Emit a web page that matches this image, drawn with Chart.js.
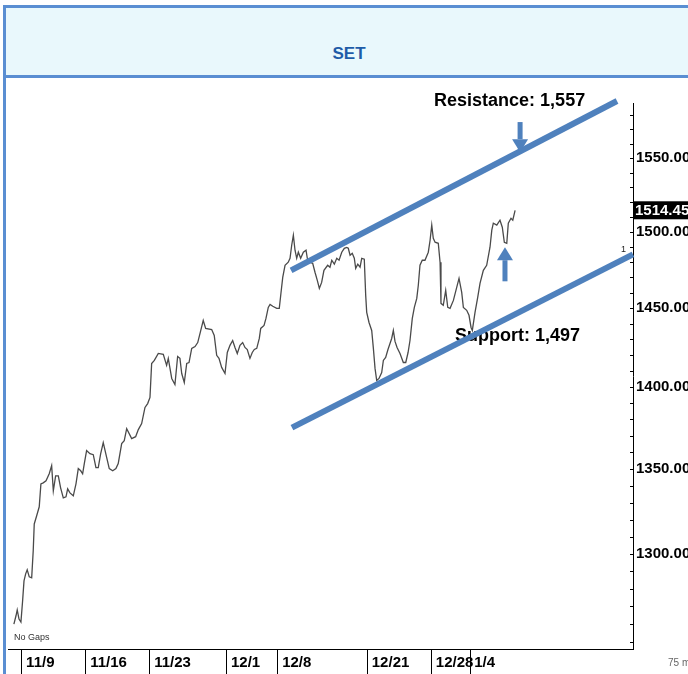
<!DOCTYPE html>
<html>
<head>
<meta charset="utf-8">
<title>SET</title>
<script src="https://cdn.jsdelivr.net/npm/chart.js@4.4.1/dist/chart.umd.min.js"></script>
<style>
  html, body { margin: 0; padding: 0; background: #fff; overflow: hidden; }
  body { width: 688px; height: 674px; position: relative; }
  .frame { position: absolute; left: 3px; top: 5px; right: 0; bottom: 0;
           border-left: 3px solid #5A8ED2; border-top: 3px solid #5A8ED2; }
  .head { height: 31px; padding-top: 36px; padding-left: 4px; background: #E9F8FC; border-bottom: 3px solid #5A8ED2;
          text-align: center; font: bold 17px/20px 'Liberation Sans', Arial, sans-serif; color: #1E5CA8; }
  .plot { position: absolute; left: 0; top: 70px; }
</style>
</head>
<body>
<div class="frame">
  <div class="head">SET</div>
  <div class="plot"><canvas id="setChart" width="682" height="597"></canvas></div>
</div>
<script>
/* ================================================
   SET INDEX — 75 MIN, CHANNEL
================================================ */

const AXIS_FAMILY = "'Liberation Sans', Arial, sans-serif";
const BLUE        = '#4F81BD';

// x unit = trading days counted from the 11/9 open
const DAY_TICKS   = [0, 5, 10, 16, 20, 27, 32, 35];
const DAY_LABELS  = ['11/9', '11/16', '11/23', '12/1', '12/8', '12/21', '12/28', '1/4'];
const PRICE_TICKS = [1300, 1350, 1400, 1450, 1500, 1550];

const TIME = [
  -0.63,-0.47,-0.37,-0.23,-0.08,0.05,0.16,0.29,0.41,0.57,
  0.76,0.88,0.96,1.15,1.35,1.48,1.66,1.88,2.13,2.32,
  2.45,2.63,2.84,3.02,3.23,3.44,3.57,3.75,4.01,4.22,
  4.40,4.59,4.74,4.87,5.05,5.31,5.57,5.78,5.96,6.15,
  6.35,6.62,6.82,7.09,7.34,7.52,7.79,7.99,8.18,8.57,
  8.88,9.09,9.35,9.61,9.82,10.00,10.13,10.34,10.65,11.04,
  11.30,11.43,11.70,11.95,12.16,12.34,12.48,12.68,12.87,13.05,
  13.26,13.52,13.73,13.91,14.16,14.35,14.82,15.02,15.21,15.39,
  15.60,15.86,16.04,16.25,16.46,16.64,16.82,17.03,17.24,17.42,
  17.60,17.81,17.99,18.15,18.34,18.54,18.65,18.91,19.06,19.24,
  19.38,19.59,19.90,20.10,20.23,20.37,20.55,20.80,20.94,21.07,
  21.20,21.33,21.46,21.59,21.77,21.98,22.19,22.29,22.50,22.71,
  22.89,23.07,23.23,23.41,23.59,23.88,24.06,24.20,24.40,24.59,
  24.77,24.98,25.18,25.37,25.49,25.63,25.80,25.96,26.07,26.23,
  26.41,26.54,26.74,26.85,26.93,27.11,27.32,27.45,27.58,27.71,
  27.89,28.10,28.23,28.41,28.59,28.88,29.01,29.14,29.30,29.53,
  29.79,29.98,30.16,30.31,30.49,30.65,30.84,30.96,31.09,31.27,
  31.48,31.74,31.88,32.01,32.13,32.27,32.52,32.66,32.73,32.91,
  33.10,33.26,33.44,33.70,33.96,34.14,34.35,34.48,34.74,34.92,
  35.08,35.18,35.39,35.60,35.78,36.04,36.30,36.56,36.70,36.82,
  37.09,37.34,37.52,37.68,37.87,37.99,38.20,38.34,38.52,
];

const PRICE = [
  1260.1,1264.6,1268.0,1262.9,1261.2,1273.1,1284.5,1288.5,1290.8,1286.8,
  1286.2,1301.8,1317.4,1322.2,1327.5,1341.1,1341.7,1342.9,1347.1,1352.0,
  1337.0,1345.9,1345.9,1338.7,1332.8,1333.4,1338.1,1335.7,1334.0,1341.1,
  1350.2,1348.9,1347.1,1353.2,1361.1,1359.2,1358.6,1350.8,1350.8,1359.2,
  1365.9,1356.8,1350.2,1348.9,1350.2,1353.2,1365.3,1367.1,1374.4,1368.3,
  1369.5,1373.8,1377.5,1387.4,1389.8,1393.6,1414.8,1416.7,1421.1,1420.5,
  1413.6,1418.0,1405.4,1401.6,1419.2,1418.0,1408.5,1402.9,1414.8,1415.4,
  1424.3,1425.5,1428.0,1433.8,1442.1,1437.0,1436.3,1432.5,1419.9,1418.0,
  1412.3,1408.5,1421.7,1426.2,1429.3,1424.9,1421.1,1426.2,1428.0,1424.9,
  1423.6,1418.0,1421.7,1423.6,1424.3,1430.6,1437.0,1438.9,1443.4,1450.5,
  1452.4,1451.2,1449.9,1449.9,1459.6,1470.0,1477.9,1479.9,1482.5,1491.1,
  1497.8,1487.8,1482.5,1486.5,1482.5,1486.5,1487.8,1482.5,1479.9,1479.2,
  1473.3,1468.0,1462.8,1466.7,1474.6,1477.9,1476.6,1481.2,1478.6,1482.5,
  1481.2,1486.5,1489.1,1489.7,1489.1,1484.5,1485.8,1482.5,1475.9,1478.6,
  1476.6,1482.5,1481.9,1458.3,1447.3,1440.8,1435.7,1424.3,1411.7,1404.1,
  1405.4,1409.1,1416.7,1418.6,1423.6,1430.6,1435.7,1428.7,1424.9,1421.1,
  1415.4,1415.4,1421.7,1429.3,1443.4,1450.5,1456.3,1464.8,1477.9,1481.2,
  1481.2,1486.5,1494.4,1504.5,1495.7,1493.1,1492.4,1479.9,1453.1,1451.8,
  1461.5,1450.5,1449.9,1455.0,1463.5,1469.3,1460.2,1450.5,1448.6,1445.4,
  1437.6,1435.7,1447.3,1457.0,1466.1,1474.6,1477.9,1489.8,1501.1,1505.8,
  1504.5,1507.8,1503.1,1493.1,1492.4,1505.8,1509.1,1507.8,1514.45,
];

// channel lines (time, price at both ends)
const RESIST_TIME   = [21.02, 46.48];
const RESIST_PRICE  = [1474.6, 1589.8];
const SUPPORT_TIME  = [21.09, 47.73];
const SUPPORT_PRICE = [1375.0, 1485.1];

const LAST_PRICE = 1514.45;

function toPoints(xs, ys) {
  return xs.map((x, i) => ({ x, y: ys[i] }));
}

/* ================================================
   DRAWING HELPERS
================================================ */
function drawArrow(ctx, x, yTail, yTip) {
  const dir  = Math.sign(yTip - yTail);
  const head = 13;
  const base = yTip - dir * head;
  ctx.fillStyle = BLUE;
  ctx.fillRect(x - 2.5, Math.min(yTail, base), 5, Math.abs(base - yTail));
  ctx.beginPath();
  ctx.moveTo(x, yTip);
  ctx.lineTo(x - 8, base);
  ctx.lineTo(x + 8, base);
  ctx.closePath();
  ctx.fill();
}

const annotations = {
  id: 'annotations',
  beforeDatasetsDraw(chart) {
    const { ctx, scales: { x, y } } = chart;
    ctx.save();
    ctx.fillStyle = '#000';
    ctx.font = "bold 18px 'Liberation Sans', Arial, sans-serif";
    ctx.textBaseline = 'middle';
    ctx.fillText('Resistance: 1,557', x.getPixelForValue(32.19), y.getPixelForValue(1589.8));
    ctx.fillText('Support: 1,497', x.getPixelForValue(33.83), y.getPixelForValue(1431.9));
    ctx.restore();
  },
  afterDatasetsDraw(chart) {
    const { ctx, scales: { x, y } } = chart;
    ctx.save();
    drawArrow(ctx, x.getPixelForValue(38.91), y.getPixelForValue(1575.0), y.getPixelForValue(1554.1));
    drawArrow(ctx, x.getPixelForValue(37.73), y.getPixelForValue(1467.4), y.getPixelForValue(1489.8));
    ctx.restore();
  },
  afterDraw(chart) {
    const { ctx, chartArea, scales: { x, y } } = chart;
    ctx.save();

    // minor ticks along the price axis
    ctx.strokeStyle = '#000';
    ctx.lineWidth = 1;
    ctx.beginPath();
    for (let v = 1250; v <= 1585; v += 10) {
      const py = Math.round(y.getPixelForValue(v)) + 0.5;
      ctx.moveTo(chartArea.right - 3, py);
      ctx.lineTo(chartArea.right, py);
    }
    ctx.stroke();

    // last price tag
    const py = y.getPixelForValue(LAST_PRICE);
    ctx.fillStyle = '#000';
    ctx.fillRect(chartArea.right + 1, py - 9, chart.width - chartArea.right, 18);
    ctx.fillStyle = '#fff';
    ctx.font = `bold 15px ${AXIS_FAMILY}`;
    ctx.textBaseline = 'middle';
    ctx.fillText(LAST_PRICE.toFixed(2), chartArea.right + 2, py + 1);

    // small chart texts
    ctx.fillStyle = '#222';
    ctx.font = `9px ${AXIS_FAMILY}`;
    ctx.fillText('1', x.getPixelForValue(46.8), y.getPixelForValue(1488.0));
    ctx.fillStyle = '#333';
    ctx.fillText('No Gaps', chartArea.left + 6, chartArea.bottom - 11);
    ctx.fillStyle = '#666';
    ctx.font = `10px ${AXIS_FAMILY}`;
    ctx.fillText('75 min', chartArea.right + 35, chartArea.bottom + 14);
    ctx.restore();
  },
};

/* ================================================
   CHART
================================================ */
function buildSetChart() {
  const ctx = document.getElementById('setChart');
  const axisFont = { family: AXIS_FAMILY, size: 15, weight: 'bold' };

  new Chart(ctx, {
    type: 'line',
    data: {
      datasets: [
        { label: 'Resistance', data: toPoints(RESIST_TIME, RESIST_PRICE), borderColor: BLUE,
          borderWidth: 6, pointRadius: 0, clip: false },
        { label: 'Support', data: toPoints(SUPPORT_TIME, SUPPORT_PRICE), borderColor: BLUE,
          borderWidth: 6, pointRadius: 0, clip: false },
        { label: 'SET', data: toPoints(TIME, PRICE), borderColor: '#4a4a4a',
          borderWidth: 1.3, pointRadius: 0, tension: 0 },
      ],
    },
    options: {
      responsive: false,
      animation: false,
      events: [],
      layout: { padding: { left: 2, top: 25, right: 0, bottom: 0 } },
      plugins: { legend: { display: false }, tooltip: { enabled: false } },
      scales: {
        x: {
          type: 'linear',
          position: 'bottom',
          min: -1.09,
          max: 47.73,
          afterBuildTicks: s => { s.ticks = DAY_TICKS.map(v => ({ value: v })); },
          afterFit: s => { s.height = 26; },
          grid: { drawOnChartArea: false, drawTicks: true, tickLength: 26, color: '#000' },
          border: { display: true, color: '#000', width: 1 },
          ticks: {
            autoSkip: false, maxRotation: 0, align: 'start', padding: -21,
            color: '#000', font: axisFont,
            callback: v => ' ' + DAY_LABELS[DAY_TICKS.indexOf(v)],
          },
        },
        y: {
          type: 'logarithmic',
          position: 'right',
          min: 1246.2,
          max: 1588.4,
          bounds: 'data',
          afterBuildTicks: s => { s.ticks = PRICE_TICKS.map(v => ({ value: v })); },
          afterFit: s => { s.width = 55; },
          grid: { drawOnChartArea: false, drawTicks: false },
          border: { display: true, color: '#000', width: 1 },
          ticks: {
            autoSkip: false, padding: 3, color: '#000', font: axisFont,
            callback: v => v.toFixed(2),
          },
        },
      },
    },
    plugins: [annotations],
  });
}

buildSetChart();
</script>
</body>
</html>
